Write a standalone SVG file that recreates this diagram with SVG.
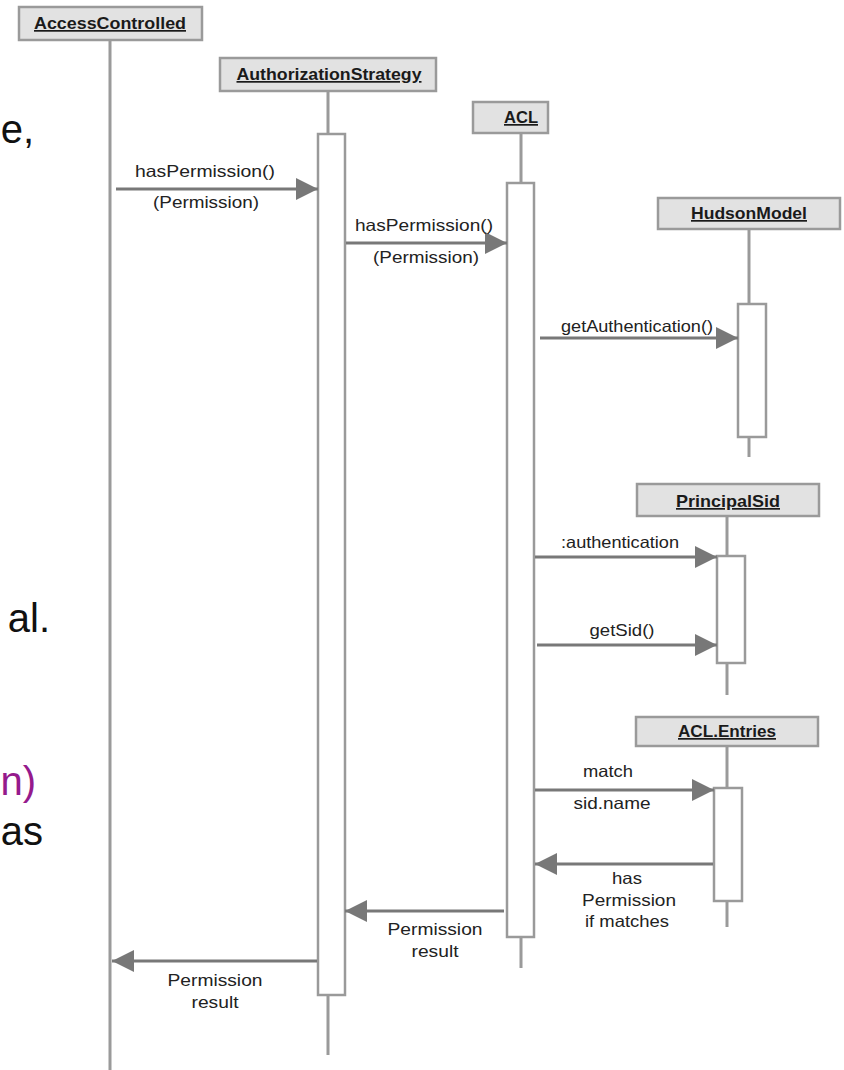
<svg xmlns="http://www.w3.org/2000/svg" width="844" height="1070" viewBox="0 0 844 1070">
<style>
.hdr{fill:#e2e2e2;stroke:#9a9a9a;stroke-width:2.5}
.hdrt{font-family:"Liberation Sans",Arial,sans-serif;font-size:17px;font-weight:bold;fill:#1a1a1a;text-anchor:middle;text-decoration:underline}
.life{stroke:#9a9a9a;stroke-width:3;fill:none}
.act{fill:#fff;stroke:#9a9a9a;stroke-width:2.5}
.msg{stroke:#787878;stroke-width:3;fill:none;marker-end:url(#ah)}
.lbl{font-family:"Liberation Sans",Arial,sans-serif;font-size:16.5px;fill:#222;text-anchor:middle}
.big{font-family:"Liberation Sans",Arial,sans-serif;font-size:40px;fill:#111;text-anchor:end}
</style>
<defs>
<marker id="ah" viewBox="0 0 22 22" refX="22" refY="11" markerWidth="22" markerHeight="22" markerUnits="userSpaceOnUse" orient="auto">
<path d="M0,0 L22,11 L0,22 z" fill="#787878"/>
</marker>
</defs>
<rect width="844" height="1070" fill="#fff"/>
<g id="fragments">
<text class="big" x="34" y="143">e,</text>
<text class="big" x="50" y="632">al.</text>
<text class="big" x="36" y="795" style="fill:#951a8c">n)</text>
<text class="big" x="43" y="845">as</text>
</g>
<g id="AccessControlled">
<line class="life" x1="110" y1="40" x2="110" y2="1070"/>
<rect class="hdr" x="19" y="7" width="183" height="33"/>
<text class="hdrt" x="110" y="29" textLength="152" lengthAdjust="spacingAndGlyphs">AccessControlled</text>
</g>
<g id="AuthorizationStrategy">
<line class="life" x1="328" y1="91" x2="328" y2="1055"/>
<rect class="hdr" x="220" y="58" width="216" height="33"/>
<text class="hdrt" x="329" y="80" textLength="185" lengthAdjust="spacingAndGlyphs">AuthorizationStrategy</text>
<rect class="act" x="318" y="134" width="27" height="861"/>
</g>
<g id="ACL">
<line class="life" x1="521" y1="133" x2="521" y2="968"/>
<rect class="hdr" x="473" y="102" width="75" height="31"/>
<text class="hdrt" x="521" y="123" textLength="34" lengthAdjust="spacingAndGlyphs">ACL</text>
<rect class="act" x="507" y="183" width="27" height="754"/>
</g>
<g id="HudsonModel">
<line class="life" x1="749" y1="229" x2="749" y2="457"/>
<rect class="hdr" x="658" y="198" width="182" height="31"/>
<text class="hdrt" x="749" y="219" textLength="116" lengthAdjust="spacingAndGlyphs">HudsonModel</text>
<rect class="act" x="738" y="304" width="28" height="133"/>
</g>
<g id="PrincipalSid">
<line class="life" x1="727" y1="516" x2="727" y2="695"/>
<rect class="hdr" x="637" y="484" width="182" height="32"/>
<text class="hdrt" x="728" y="507" textLength="104" lengthAdjust="spacingAndGlyphs">PrincipalSid</text>
<rect class="act" x="717" y="556" width="28" height="107"/>
</g>
<g id="ACLEntries">
<line class="life" x1="727" y1="746" x2="727" y2="927"/>
<rect class="hdr" x="636" y="717" width="182" height="29"/>
<text class="hdrt" x="727" y="737" textLength="98" lengthAdjust="spacingAndGlyphs">ACL.Entries</text>
<rect class="act" x="714" y="788" width="28" height="113"/>
</g>
<g id="connectors">
<line class="msg" x1="116" y1="189" x2="318" y2="189"/>
<line class="msg" x1="346" y1="243" x2="507" y2="243"/>
<line class="msg" x1="540" y1="338" x2="738" y2="338"/>
<line class="msg" x1="535" y1="557" x2="717" y2="557"/>
<line class="msg" x1="537" y1="645" x2="717" y2="645"/>
<line class="msg" x1="535" y1="790" x2="714" y2="790"/>
<line class="msg" x1="713" y1="864" x2="535" y2="864"/>
<line class="msg" x1="504" y1="911" x2="345" y2="911"/>
<line class="msg" x1="317" y1="961" x2="112" y2="961"/>
<text class="lbl" x="205" y="177" textLength="140" lengthAdjust="spacingAndGlyphs">hasPermission()</text>
<text class="lbl" x="206" y="208" textLength="106" lengthAdjust="spacingAndGlyphs">(Permission)</text>
<text class="lbl" x="424" y="231" textLength="138" lengthAdjust="spacingAndGlyphs">hasPermission()</text>
<text class="lbl" x="426" y="263" textLength="106" lengthAdjust="spacingAndGlyphs">(Permission)</text>
<text class="lbl" x="637" y="332" textLength="152" lengthAdjust="spacingAndGlyphs">getAuthentication()</text>
<text class="lbl" x="620" y="548" textLength="118" lengthAdjust="spacingAndGlyphs">:authentication</text>
<text class="lbl" x="622" y="636" textLength="65" lengthAdjust="spacingAndGlyphs">getSid()</text>
<text class="lbl" x="608" y="777" textLength="50" lengthAdjust="spacingAndGlyphs">match</text>
<text class="lbl" x="612" y="809" textLength="77" lengthAdjust="spacingAndGlyphs">sid.name</text>
<text class="lbl" x="627" y="884" textLength="30" lengthAdjust="spacingAndGlyphs">has</text>
<text class="lbl" x="629" y="906" textLength="94" lengthAdjust="spacingAndGlyphs">Permission</text>
<text class="lbl" x="627" y="927" textLength="84" lengthAdjust="spacingAndGlyphs">if matches</text>
<text class="lbl" x="435" y="935" textLength="95" lengthAdjust="spacingAndGlyphs">Permission</text>
<text class="lbl" x="435" y="957" textLength="47" lengthAdjust="spacingAndGlyphs">result</text>
<text class="lbl" x="215" y="986" textLength="95" lengthAdjust="spacingAndGlyphs">Permission</text>
<text class="lbl" x="215" y="1008" textLength="47" lengthAdjust="spacingAndGlyphs">result</text>
</g>
</svg>
